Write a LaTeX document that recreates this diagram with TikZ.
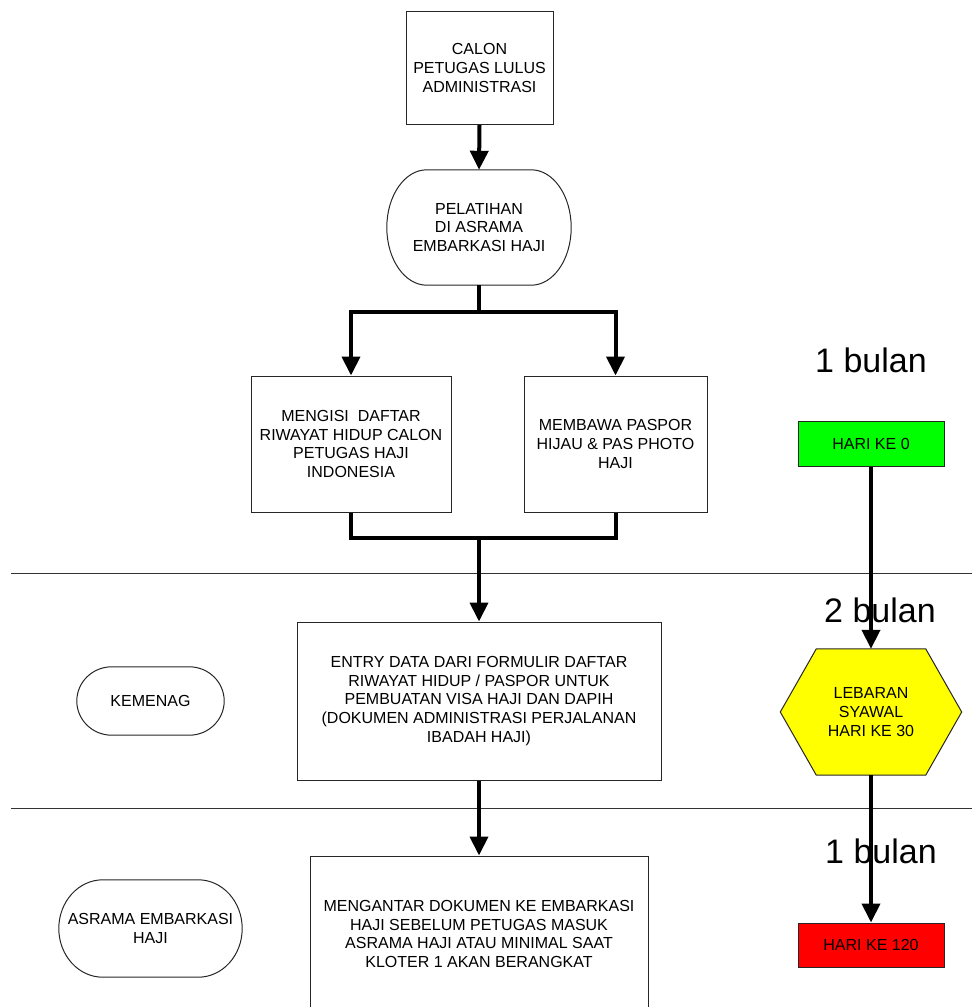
\documentclass[tikz,border=0pt]{standalone}
\usepackage{fontspec}
\setmainfont{Liberation Sans}
\usetikzlibrary{arrows.meta,calc,backgrounds}
\definecolor{hijau}{RGB}{0,255,0}
\definecolor{kuning}{RGB}{255,255,0}
\definecolor{merah}{RGB}{255,0,0}
\newcommand\mainfs{\fontsize{16}{18.8}\selectfont}
\newcommand\stadiumline[2]{%
  \draw[boxline] let \p1=(#1.north west), \p2=(#1.south east), \n1={(\y1-\y2)/2} in
  (\x1+#2,\y1) -- (\x2-#2,\y1) arc[start angle=90,end angle=-90,x radius=#2,y radius=\n1]
  -- (\x1+#2,\y2) arc[start angle=270,end angle=90,x radius=#2,y radius=\n1] -- cycle;}
\begin{document}
\begin{tikzpicture}[x=1pt,y=-1pt,
  boxline/.style={draw=black!85,line width=1pt},
  box/.style={boxline,rectangle,inner sep=0pt,align=center,font=\mainfs},
  term/.style={rectangle,inner sep=0pt,align=center,font=\mainfs},
  conn/.style={line width=4pt,black},
  arr/.style={conn,-{Triangle[length=19pt,width=18pt]}},
  big/.style={font=\fontsize{34}{40}\selectfont,anchor=base,inner sep=0pt},
  sep/.style={draw=black!80,line width=1pt}]
\path[use as bounding box] (0,0) rectangle (972,1007);
\clip (0,0) rectangle (972,1007);

% separators
\coordinate (s1a) at (11,573);
\coordinate (s1b) at (972,573);
\coordinate (s2a) at (11,808);
\coordinate (s2b) at (972,808);
\draw[sep] (s1a) -- (s1b);
\draw[sep] (s2a) -- (s2b);

% main flow
\node[box,minimum width=147pt,minimum height=113pt] (top) at (479.5,68)
  {CALON\\PETUGAS LULUS\\ADMINISTRASI};
\node[term,minimum width=184pt,minimum height=115pt] (pel) at (479,227.5)
  {PELATIHAN\\DI ASRAMA\\EMBARKASI HAJI};
\stadiumline{pel}{40pt}
\node[box,minimum width=200pt,minimum height=136pt] (left) at (351,444)
  {MENGISI \ DAFTAR\\RIWAYAT HIDUP CALON\\PETUGAS HAJI\\INDONESIA};
\node[box,minimum width=183pt,minimum height=136pt] (right) at (615.5,444)
  {MEMBAWA PASPOR\\HIJAU \& PAS PHOTO\\HAJI};
\node[box,minimum width=364pt,minimum height=158pt] (entry) at (479,701)
  {ENTRY DATA DARI FORMULIR DAFTAR\\RIWAYAT HIDUP / PASPOR UNTUK\\PEMBUATAN VISA HAJI DAN DAPIH\\(DOKUMEN ADMINISTRASI PERJALANAN\\IBADAH HAJI)};
\node[box,minimum width=338pt,minimum height=156pt] (bottom) at (479,934)
  {MENGANTAR DOKUMEN KE EMBARKASI\\HAJI SEBELUM PETUGAS MASUK\\ASRAMA HAJI ATAU MINIMAL SAAT\\KLOTER 1 AKAN BERANGKAT};

% lane labels
\node[term,minimum width=147pt,minimum height=68pt] (kem) at (150.5,701) {KEMENAG};
\stadiumline{kem}{35pt}
\node[term,minimum width=183pt,minimum height=97pt] (asr) at (150.5,928.5)
  {ASRAMA EMBARKASI\\HAJI};
\stadiumline{asr}{44pt}

% connectors
\coordinate (split) at (479,312);
\coordinate (join) at (479,538);
\draw[arr] (top.south) -- (pel.north);
\draw[conn] (pel.south) -- (split);
\draw[arr] (split) -| (left.north);
\draw[arr] (split) -| (right.north);
\draw[conn] (left.south) |- (join);
\draw[conn] (right.south) |- (join);
\draw[arr] (join) -- (entry.north);
\draw[arr] (entry.south) -- (bottom.north);

% timeline
\node[big] (b1) at (871,372) {1 bulan};
\node[big] (b2) at (880,622) {2 bulan};
\node[big] (b3) at (881,863) {1 bulan};
\node[box,fill=hijau,minimum width=146pt,minimum height=45pt] (green) at (871,443.5) {HARI KE 0};
\node[term,minimum width=181pt,minimum height=126pt] (hex) at (871,712)
  {LEBARAN\\SYAWAL\\HARI KE 30};
\begin{scope}[on background layer]
\draw[boxline,fill=kuning] (hex.west) -- ([xshift=36pt]hex.north west) -- ([xshift=-36pt]hex.north east)
  -- (hex.east) -- ([xshift=-36pt]hex.south east) -- ([xshift=36pt]hex.south west) -- cycle;
\end{scope}
\node[box,fill=merah,minimum width=146pt,minimum height=44pt] (red) at (871,945) {HARI KE 120};
\draw[arr] (green.south) -- (hex.north);
\draw[arr] (hex.south) -- (red.north);
\end{tikzpicture}
\end{document}
